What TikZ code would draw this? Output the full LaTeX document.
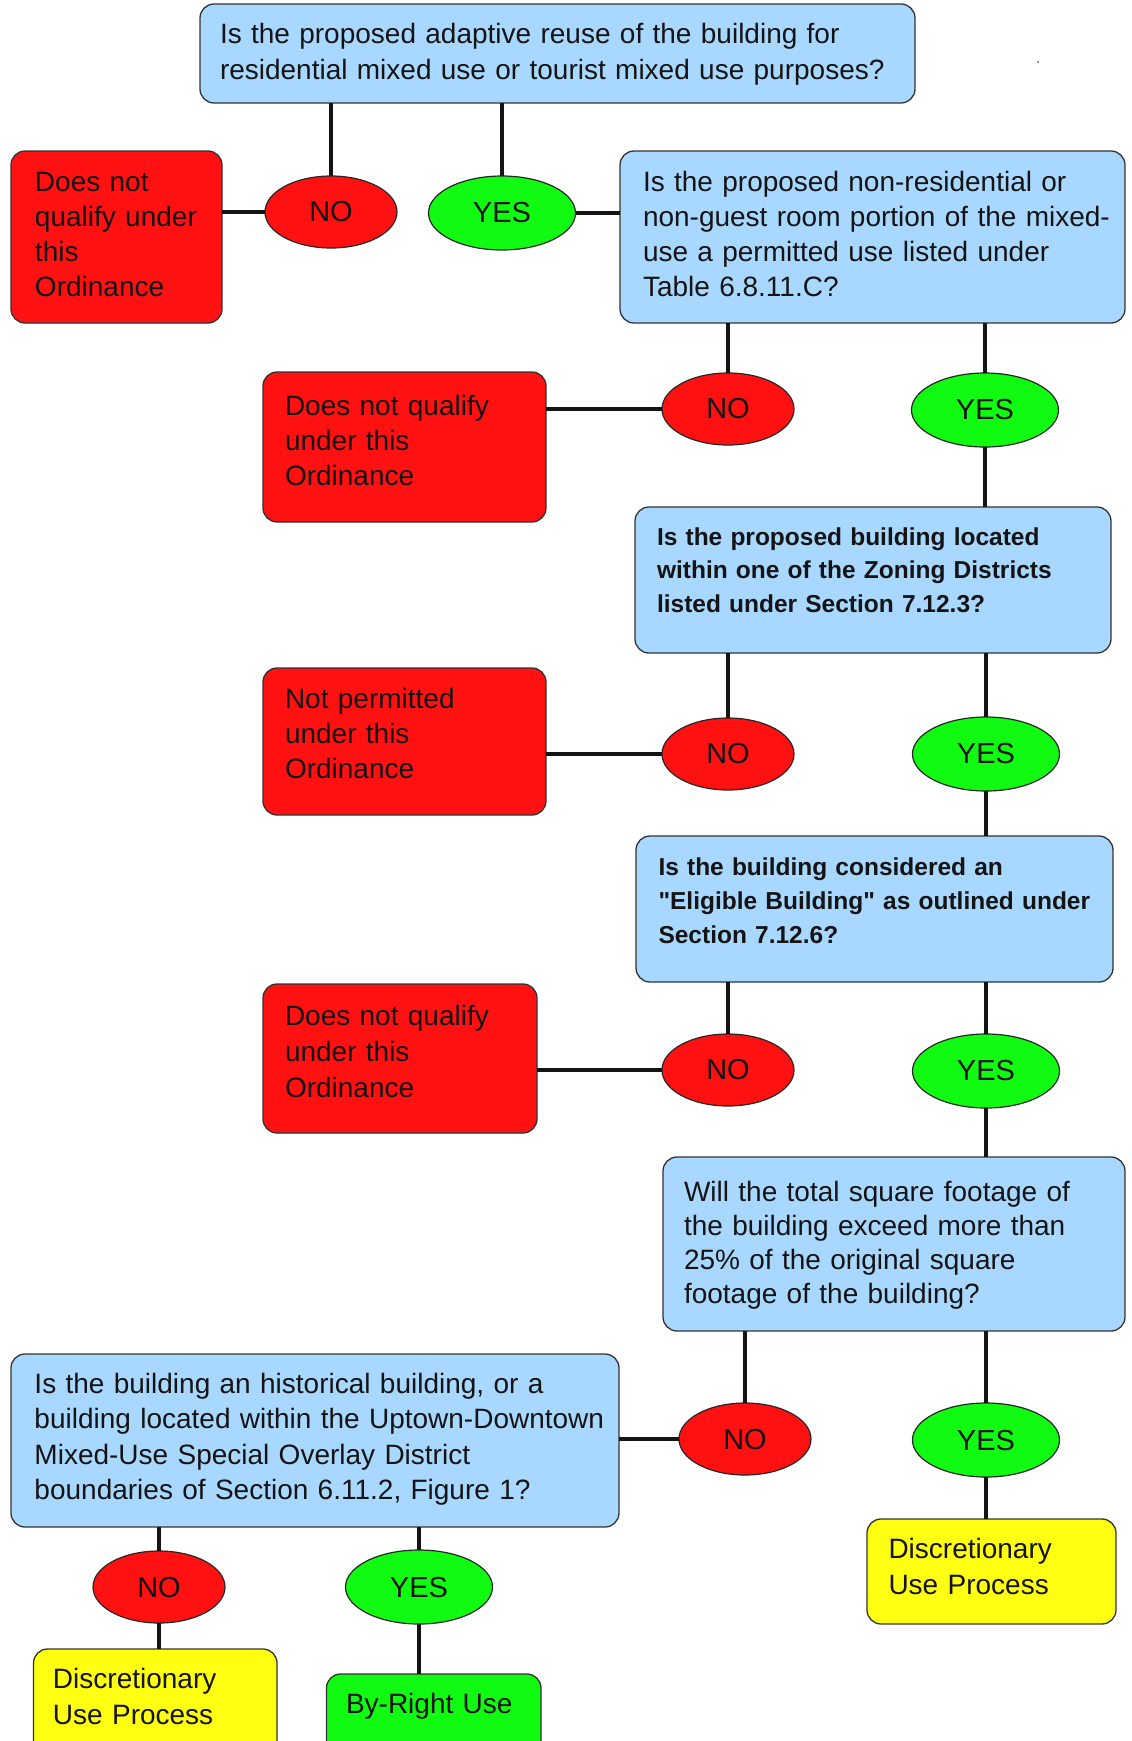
\documentclass[tikz,border=0pt]{standalone}
\usepackage{fontspec}
\setmainfont{Liberation Sans}[Ligatures=TeXOff]
\usetikzlibrary{shapes.geometric}
\definecolor{qblue}{RGB}{168,216,255}
\definecolor{nored}{RGB}{255,17,17}
\definecolor{yesgreen}{RGB}{17,250,17}
\definecolor{yel}{RGB}{255,255,17}
\definecolor{ink}{RGB}{20,20,20}
\begin{document}
\begin{tikzpicture}[x=1pt,y=-1pt,
  box/.style={draw=black!80, line width=1.3pt, rounded corners=14pt, anchor=north west,
    inner sep=0pt, outer sep=0pt, align=left, text=ink},
  qst/.style={box, fill=qblue},
  redbox/.style={box, fill=nored},
  yelbox/.style={box, fill=yel},
  grnbox/.style={box, fill=yesgreen},
  reg/.style={font=\fontsize{28pt}{#1}\selectfont},
  bld/.style={font=\fontsize{24.5pt}{#1}\selectfont\bfseries},
  oval/.style={ellipse, draw=black!85, line width=1.2pt, inner sep=0pt, outer sep=0pt,
    text=ink, font=\fontsize{29pt}{30pt}\selectfont},
  nooval/.style={oval, fill=nored, minimum width=132pt, minimum height=72pt},
  yesoval/.style={oval, fill=yesgreen, minimum width=147pt, minimum height=74pt},
  link/.style={line width=4pt, ink}
]
\clip (0,0) rectangle (1132,1741);
\fill[white] (0,0) rectangle (1132,1741);
\fill[black!70] (1038,62) circle (1pt);

% question boxes
\node[qst, reg=36pt, minimum width=715pt, minimum height=99pt, text width=715pt] (q1) at (200,4)
  {\leftskip=20pt\relax\rule{0pt}{39pt}Is the proposed adaptive reuse of the building for\\
   residential mixed use or tourist mixed use purposes?\rule[-24pt]{0pt}{24pt}\par};
\node[qst, reg=35pt, minimum width=505pt, minimum height=172pt, text width=505pt] (q2) at (620,151)
  {\leftskip=23pt\relax\rule{0pt}{40pt}Is the proposed non-residential or\\
   non-guest room portion of the mixed-\\
   use a permitted use listed under\\
   Table 6.8.11.C?\rule[-27pt]{0pt}{27pt}\par};
\node[qst, bld=33.5pt, minimum width=476pt, minimum height=146pt, text width=476pt] (q3) at (635,507)
  {\leftskip=22pt\relax\rule{0pt}{38pt}Is the proposed building located\\
   within one of the Zoning Districts\\
   listed under Section 7.12.3?\rule[-41pt]{0pt}{41pt}\par};
\node[qst, bld=34pt, minimum width=477pt, minimum height=146pt, text width=477pt] (q4) at (636,836)
  {\leftskip=22.5pt\relax\rule{0pt}{39pt}Is the building considered an\\
   "Eligible Building" as outlined under\\
   Section 7.12.6?\rule[-39pt]{0pt}{39pt}\par};
\node[qst, reg=34pt, minimum width=462pt, minimum height=174pt, text width=462pt] (q5) at (663,1157)
  {\leftskip=21pt\relax\rule{0pt}{44pt}Will the total square footage of\\
   the building exceed more than\\
   25\% of the original square\\
   footage of the building?\rule[-28pt]{0pt}{28pt}\par};
\node[qst, reg=35.5pt, minimum width=608pt, minimum height=173pt, text width=608pt] (q6) at (11,1354)
  {\leftskip=23.5pt\relax\rule{0pt}{39pt}Is the building an historical building, or a\\
   building located within the Uptown-Downtown\\
   Mixed-Use Special Overlay District\\
   boundaries of Section 6.11.2, Figure 1?\rule[-27.5pt]{0pt}{27.5pt}\par};

% outcome boxes
\node[redbox, reg=35pt, minimum width=211pt, minimum height=172pt, text width=211pt] (r1) at (11,151)
  {\leftskip=24pt\relax\rule{0pt}{40pt}Does not\\ qualify under\\ this\\ Ordinance\rule[-27pt]{0pt}{27pt}\par};
\node[redbox, reg=35pt, minimum width=283pt, minimum height=150pt, text width=283pt] (r2) at (263,372)
  {\leftskip=22pt\relax\rule{0pt}{43pt}Does not qualify\\ under this\\ Ordinance\rule[-37pt]{0pt}{37pt}\par};
\node[redbox, reg=35pt, minimum width=283pt, minimum height=147pt, text width=283pt] (r3) at (263,668)
  {\leftskip=22pt\relax\rule{0pt}{40pt}Not permitted\\ under this\\ Ordinance\rule[-37pt]{0pt}{37pt}\par};
\node[redbox, reg=36pt, minimum width=274pt, minimum height=149pt, text width=274pt] (r4) at (263,984)
  {\leftskip=22pt\relax\rule{0pt}{41pt}Does not qualify\\ under this\\ Ordinance\rule[-36pt]{0pt}{36pt}\par};
\node[yelbox, reg=36pt, minimum width=249pt, minimum height=105pt, text width=249pt] (d1) at (867,1519)
  {\leftskip=21.5pt\relax\rule{0pt}{39pt}Discretionary\\ Use Process\rule[-30pt]{0pt}{30pt}\par};
\node[yelbox, reg=36pt, minimum width=243.5pt, minimum height=141pt, text width=243.5pt] (d2) at (33.5,1649)
  {\leftskip=19.5pt\relax\rule{0pt}{39pt}Discretionary\\ Use Process\rule[-66pt]{0pt}{66pt}\par};
\node[grnbox, reg=36pt, minimum width=214.5pt, minimum height=116pt, text width=214.5pt] (br) at (326.5,1674)
  {\leftskip=19.5pt\relax\rule[-77pt]{0pt}{116pt}By-Right Use\par};

% decision ovals
\node[nooval] (n1) at (331,212) {NO};
\node[yesoval] (y1) at (502,213) {YES};
\node[nooval] (n2) at (728,409) {NO};
\node[yesoval] (y2) at (985,410) {YES};
\node[nooval] (n3) at (728,754) {NO};
\node[yesoval] (y3) at (986,754) {YES};
\node[nooval] (n4) at (728,1070) {NO};
\node[yesoval] (y4) at (986,1071) {YES};
\node[nooval] (n5) at (745,1439) {NO};
\node[yesoval] (y5) at (986,1440) {YES};
\node[nooval] (n6) at (159,1587) {NO};
\node[yesoval] (y6) at (419,1587) {YES};

% connectors
\draw[link] (q1.south -| n1.north) -- (n1.north);
\draw[link] (q1.south -| y1.north) -- (y1.north);
\draw[link] (n1.west) -- (n1.west -| r1.east);
\draw[link] (y1.east) -- (y1.east -| q2.west);

\draw[link] (q2.south -| n2.north) -- (n2.north);
\draw[link] (q2.south -| y2.north) -- (y2.north);
\draw[link] (n2.west) -- (n2.west -| r2.east);
\draw[link] (y2.south) -- (y2.south |- q3.north);

\draw[link] (q3.south -| n3.north) -- (n3.north);
\draw[link] (q3.south -| y3.north) -- (y3.north);
\draw[link] (n3.west) -- (n3.west -| r3.east);
\draw[link] (y3.south) -- (y3.south |- q4.north);

\draw[link] (q4.south -| n4.north) -- (n4.north);
\draw[link] (q4.south -| y4.north) -- (y4.north);
\draw[link] (n4.west) -- (n4.west -| r4.east);
\draw[link] (y4.south) -- (y4.south |- q5.north);

\draw[link] (q5.south -| n5.north) -- (n5.north);
\draw[link] (q5.south -| y5.north) -- (y5.north);
\draw[link] (n5.west) -- (n5.west -| q6.east);
\draw[link] (y5.south) -- (y5.south |- d1.north);

\draw[link] (q6.south -| n6.north) -- (n6.north);
\draw[link] (q6.south -| y6.north) -- (y6.north);
\draw[link] (n6.south) -- (n6.south |- d2.north);
\draw[link] (y6.south) -- (y6.south |- br.north);
\end{tikzpicture}
\end{document}
